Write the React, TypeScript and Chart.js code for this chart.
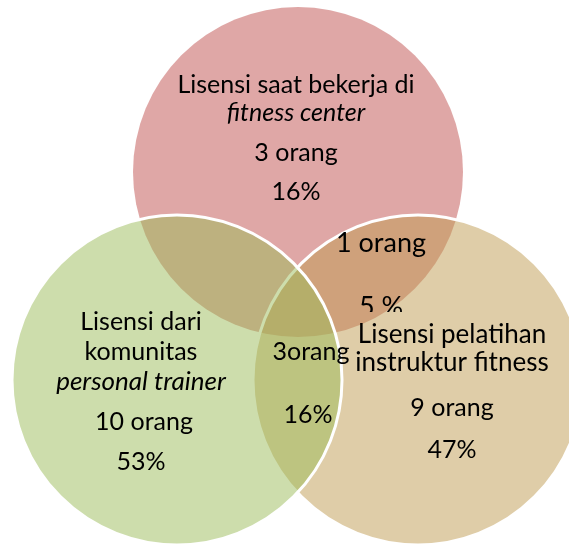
import React, { useEffect, useRef } from "react";
import { Chart, registerables } from "chart.js";

Chart.register(...registerables);

// Venn sets (drawn in this order: red, tan, green on top)
const setNames = ["fitness center", "instruktur fitness", "personal trainer"];
const setCenterX = [298, 418, 177];
const setCenterY = [172, 380, 380];
const setRadius = [165, 165, 165];
const setFill = ["rgba(192,80,77,0.5)", "rgba(191,155,81,0.5)", "rgba(155,187,89,0.5)"];
const setBorder = [0, 3, 3];

// Counts and percentages
const setCounts = [3, 9, 10];
const setPercents = [16, 47, 53];
const overlapCounts = [1, 3]; // fitness center ∩ instruktur, komunitas ∩ instruktur
const overlapPercents = [5, 16];

type Label = { text: string; x: number; y: number; size: number; italic?: boolean; clipBottom?: number };

const labels: Label[] = [
  { text: "Lisensi saat bekerja di", x: 296, y: 85, size: 25 },
  { text: "fitness center", x: 296, y: 113, size: 25, italic: true },
  { text: `${setCounts[0]} orang`, x: 296, y: 153, size: 25 },
  { text: `${setPercents[0]}%`, x: 296, y: 192, size: 25 },

  { text: "Lisensi dari", x: 141, y: 322, size: 25 },
  { text: "komunitas", x: 141, y: 352, size: 25 },
  { text: "personal trainer", x: 141, y: 382, size: 26, italic: true },
  { text: `${setCounts[2]} orang`, x: 144, y: 422, size: 25 },
  { text: `${setPercents[2]}%`, x: 141, y: 462, size: 25 },

  { text: "Lisensi pelatihan", x: 452, y: 335, size: 26 },
  { text: "instruktur fitness", x: 452, y: 363, size: 26 },
  { text: `${setCounts[1]} orang`, x: 452, y: 408, size: 25 },
  { text: `${setPercents[1]}%`, x: 452, y: 450, size: 25 },

  { text: `${overlapCounts[0]} orang`, x: 381, y: 243, size: 27 },
  { text: `${overlapPercents[0]} %`, x: 381, y: 307, size: 27, clipBottom: 312 },

  { text: `${overlapCounts[1]}orang`, x: 311, y: 352, size: 25 },
  { text: `${overlapPercents[1]}%`, x: 308, y: 415, size: 25 },
];

const labelPlugin = {
  id: "vennLabels",
  afterDatasetsDraw(chart: any) {
    const ctx = chart.ctx as CanvasRenderingContext2D;
    const xs = chart.scales.x;
    const ys = chart.scales.y;
    labels.forEach((l) => {
      ctx.save();
      const px = xs.getPixelForValue(l.x);
      const py = ys.getPixelForValue(l.y);
      if (l.clipBottom !== undefined) {
        const cb = ys.getPixelForValue(l.clipBottom);
        ctx.beginPath();
        ctx.rect(0, 0, chart.width, cb);
        ctx.clip();
      }
      ctx.font = `${l.italic ? "italic " : ""}${l.size}px Lato`;
      ctx.fillStyle = "#000";
      ctx.textAlign = "center";
      ctx.textBaseline = "middle";
      ctx.fillText(l.text, px, py);
      ctx.restore();
    });
  },
};

export default function App() {
  const ref = useRef<HTMLCanvasElement | null>(null);
  useEffect(() => {
    if (!ref.current) return;
    const chart = new Chart(ref.current, {
      type: "bubble",
      data: {
        datasets: [
          {
            label: "Venn",
            data: setNames.map((_, i) => ({ x: setCenterX[i], y: setCenterY[i], r: setRadius[i] })),
            backgroundColor: setFill,
            borderColor: "#ffffff",
            borderWidth: setBorder,
            hoverRadius: 0,
            clip: false,
          } as any,
        ],
      },
      options: {
        responsive: false,
        maintainAspectRatio: false,
        animation: false,
        events: [],
        layout: { padding: 0, autoPadding: false },
        plugins: { legend: { display: false }, tooltip: { enabled: false } },
        scales: {
          x: { type: "linear", min: 0, max: 569, display: false },
          y: { type: "linear", min: 0, max: 545, reverse: true, display: false },
        },
      } as any,
      plugins: [labelPlugin],
    });
    return () => chart.destroy();
  }, []);
  return (
    <div style={{ position: "fixed", left: 0, top: 0, width: 569, height: 545, background: "#fff" }}>
      <canvas ref={ref} width={569} height={545} />
    </div>
  );
}
